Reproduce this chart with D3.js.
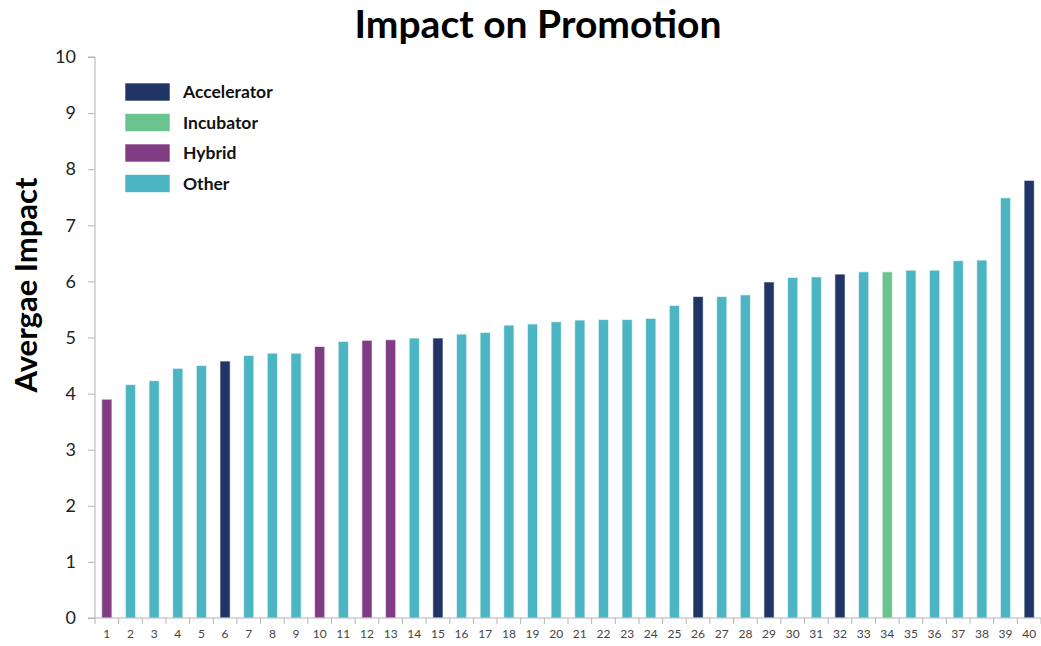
<!DOCTYPE html>
<html>
<head>
<meta charset="utf-8">
<script src="https://cdn.jsdelivr.net/npm/d3@7"></script>
<style>
  body { margin: 0; background: #fff; }
  text { font-family: Lato, "Open Sans", sans-serif; }
</style>
</head>
<body>
<div id="vis"></div>
<script>
// bar values, in order 1..40
var ids = d3.range(1, 41).map(String);
var values = [3.90, 4.16, 4.23, 4.45, 4.50, 4.58, 4.68, 4.72, 4.72, 4.84,
              4.93, 4.95, 4.96, 4.99, 4.99, 5.06, 5.09, 5.22, 5.24, 5.28,
              5.31, 5.32, 5.32, 5.34, 5.57, 5.73, 5.73, 5.76, 5.99, 6.07,
              6.08, 6.13, 6.17, 6.17, 6.20, 6.20, 6.37, 6.38, 7.49, 7.80];
var types = ["Hybrid", "Other", "Other", "Other", "Other", "Accelerator", "Other", "Other", "Other", "Hybrid",
             "Other", "Hybrid", "Hybrid", "Other", "Accelerator", "Other", "Other", "Other", "Other", "Other",
             "Other", "Other", "Other", "Other", "Other", "Accelerator", "Other", "Other", "Accelerator", "Other",
             "Other", "Accelerator", "Other", "Incubator", "Other", "Other", "Other", "Other", "Other", "Accelerator"];
var legendNames = ["Accelerator", "Incubator", "Hybrid", "Other"];
var legendColors = ["#203566", "#6bc48d", "#803d86", "#4bb5c4"];
var yTicks = d3.range(0, 11);

var width = 1041;
var height = 646;
var margin = {top: 57, right: 0, bottom: 28, left: 95};

var svg = d3.select("#vis")
            .append("svg")
            .attr("width", width)
            .attr("height", height);

var x = d3.scaleBand()
        .domain(ids)
        .range([margin.left, width - margin.right])
        .paddingInner(0.57)
        .paddingOuter(0.285);

var y = d3.scaleLinear()
        .domain([0, 10])
        .range([height - margin.bottom, margin.top]);

var color = d3.scaleOrdinal()
        .domain(legendNames)
        .range(legendColors);

// title
svg.append("text")
        .attr("x", 538)
        .attr("y", 38)
        .attr("text-anchor", "middle")
        .style("font-size", "39px")
        .style("font-weight", "bold")
        .attr("fill", "#000")
        .text("Impact on Promotion");

// y axis label
svg.append("text")
        .attr("transform", "translate(37," + 285 + ") rotate(-90)")
        .attr("text-anchor", "middle")
        .style("font-size", "31px")
        .style("font-weight", "bold")
        .attr("fill", "#000")
        .text("Avergae  Impact");

// bars
svg.append("g")
    .selectAll("rect")
    .data(values)
    .join("rect")
        .attr("x", (d, i) => x(ids[i]))
        .attr("y", d => y(d))
        .attr("width", x.bandwidth())
        .attr("height", d => y(0) - y(d))
        .attr("fill", (d, i) => color(types[i]))
        .attr("stroke", "rgba(255,255,255,0.6)")
        .attr("stroke-width", 1);

// y axis
var yAxis = d3.axisLeft(y)
        .tickValues(yTicks)
        .tickSize(7)
        .tickPadding(12);

var gy = svg.append("g")
        .attr("transform", "translate(" + margin.left + ",0)")
        .call(yAxis);
gy.selectAll("path, line").attr("stroke", "#b4b4b4");
gy.selectAll("text")
        .style("font-size", "18px")
        .attr("fill", "#222");
gy.select(".domain").attr("d", "M-7," + y(10) + "H0V" + y(0) + "H-7");

// x axis, ticks sit between the bars
var xAxis = d3.axisBottom(x).tickSize(0).tickPadding(11);
var gx = svg.append("g")
        .attr("transform", "translate(0," + y(0) + ")")
        .call(xAxis);
gx.select(".domain").attr("stroke", "#b4b4b4").attr("d", "M" + margin.left + ",0H" + (width - margin.right));
gx.selectAll("text")
        .style("font-size", "12px")
        .attr("fill", "#444");

var step = x.step();
var bounds = d3.range(0, ids.length + 1).map(i => margin.left + i * step);
gx.selectAll(".sep")
    .data(bounds)
    .join("line")
        .attr("class", "sep")
        .attr("x1", d => d)
        .attr("x2", d => d)
        .attr("y1", 0)
        .attr("y2", 6)
        .attr("stroke", "#b4b4b4");

// legend
var legend = svg.append("g")
        .attr("transform", "translate(125,83)");

var rows = legend.selectAll("g")
    .data(legendNames)
    .join("g")
        .attr("transform", (d, i) => "translate(0," + (i * 30.5) + ")");

rows.append("rect")
        .attr("width", 45)
        .attr("height", 18)
        .attr("fill", (d, i) => legendColors[i])
        .attr("stroke", "rgba(255,255,255,0.6)");

rows.append("text")
        .attr("x", 58)
        .attr("y", 15)
        .style("font-size", "17.5px")
        .style("font-weight", "bold")
        .attr("fill", "#111")
        .text(d => d);
</script>
</body>
</html>
